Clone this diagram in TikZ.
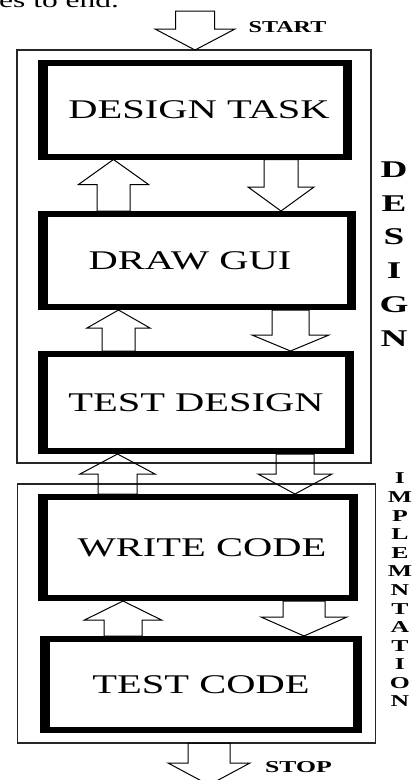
\documentclass[tikz,border=0pt]{standalone}
\usepackage{fontspec}
\setmainfont{Liberation Serif}
\usetikzlibrary{calc}
\newcommand\blockarrow[6]{% #1 from, #2 to (tip), #3 x centre, #4 half shaft, #5 half head, #6 signed head length
  \draw[arrowline] let \p1=(#1), \p2=(#2) in
    ({(#3-#4)*1pt},\y1) -- ({(#3-#4)*1pt},{\y2+(#6)*1pt}) -- ({(#3-#5)*1pt},{\y2+(#6)*1pt})
    -- ({#3*1pt},\y2) -- ({(#3+#5)*1pt},{\y2+(#6)*1pt}) -- ({(#3+#4)*1pt},{\y2+(#6)*1pt})
    -- ({(#3+#4)*1pt},\y1) -- cycle;}
\begin{document}
\begin{tikzpicture}[x=1pt,y=-1pt,
  thinbox/.style={rectangle, draw=black!85, line width=1.2pt, inner sep=0pt, outer sep=0pt},
  taskbox/.style={rectangle, fill=black, inner sep=0pt, outer sep=0pt,
    font=\fontsize{27}{30}\selectfont,
    path picture={\fill[white] ([xshift=10pt,yshift=-6pt]path picture bounding box.north west)
      rectangle ([xshift=-9pt,yshift=6pt]path picture bounding box.south east);}},
  arrowline/.style={draw=black, line width=1pt, line join=miter},
  bigletter/.style={inner sep=0pt, font=\fontsize{24}{24}\selectfont\bfseries},
  smallletter/.style={inner sep=0pt, font=\fontsize{16.6}{17}\selectfont\bfseries},
  tag/.style={inner sep=0pt, font=\fontsize{16.6}{17}\selectfont\bfseries}]
\useasboundingbox (0,0) rectangle (413,780);

% cut-off text of the page above
\node[anchor=base west, inner sep=0pt, font=\fontsize{21}{21}\selectfont] (cut) at (-1,7) {\scalebox{1.5}[1]{es to end.}};

% outer frames
\node[thinbox, minimum width=354pt, minimum height=413pt] (designbox) at (194,256.5) {};
\node[thinbox, minimum width=358pt, minimum height=259pt] (implbox) at (196.5,613.5) {};

% task boxes
\node[taskbox, minimum width=314pt, minimum height=100pt] (dt) at (195,109.5)
  {\hspace*{8pt}\scalebox{1.5}[1]{DESIGN TASK}};
\node[taskbox, minimum width=318pt, minimum height=99pt] (dg) at (197,260.5)
  {\scalebox{1.5}[1]{DRAW GUI}\hspace*{14pt}};
\node[taskbox, minimum width=316pt, minimum height=103pt] (td) at (196,402.5)
  {\scalebox{1.5}[1]{TEST DESIGN}};
\node[taskbox, minimum width=320pt, minimum height=107pt] (wc) at (198,547.5)
  {\hspace*{8pt}\scalebox{1.5}[1]{WRITE CODE}};
\node[taskbox, minimum width=322pt, minimum height=97pt] (tc) at (201,684.5)
  {\scalebox{1.5}[1]{TEST CODE}};

% start / stop
\coordinate (start) at (195,11);
\coordinate (stop) at (209,785);
\node[tag] (starttext) at (287.5,27.5) {\scalebox{1.45}[1]{START}};
\node[tag] (stoptext) at (298.5,767.5) {\scalebox{1.55}[1]{STOP}};

% block arrows
\blockarrow{start}{designbox.north}{195}{19.5}{40}{21}
\blockarrow{dt.south}{dg.north}{281}{17}{33}{24}
\blockarrow{dg.north}{dt.south}{113.5}{16.5}{35}{-25}
\blockarrow{dg.south}{td.north}{290.5}{18.5}{38.5}{16}
\blockarrow{td.north}{dg.south}{118.5}{16.5}{31.5}{-18}
\blockarrow{td.south}{wc.north}{295}{19}{37}{20}
\blockarrow{wc.north}{td.south}{117.5}{19.5}{37.5}{-20}
\blockarrow{wc.south}{tc.north}{304}{21}{43}{19}
\blockarrow{tc.north}{wc.south}{123}{19}{38.5}{-19}
\blockarrow{implbox.south}{stop}{209}{21}{41}{22}

% side labels
\foreach \l [count=\i] in {D,E,S,I,G,N}
  \node[bigletter] (des\i) at (394,{169.5+(\i-1)*33.8}) {\scalebox{1.55}[1]{\l}};
\foreach \l [count=\i] in {I,M,P,L,E,M,N,T,A,T,I,O,N}
  \node[smallletter] (imp\i) at (400,{478.5+(\i-1)*18.58}) {\scalebox{1.55}[1]{\l}};
\end{tikzpicture}
\end{document}
